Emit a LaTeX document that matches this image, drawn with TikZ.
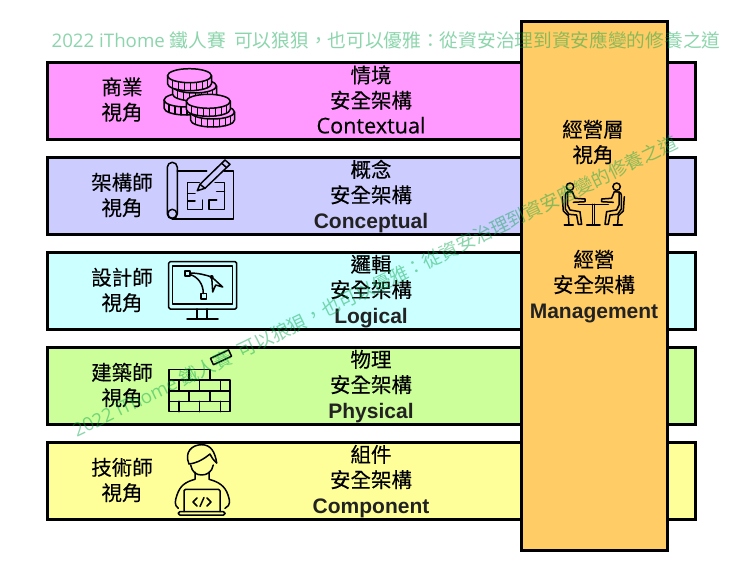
\documentclass[tikz,border=0pt]{standalone}
\usepackage{fontspec}
\setmainfont{Open Sans}[FakeBold=0.3]
\newfontfamily\markfont{Open Sans}
\newfontfamily\cjk{Noto Sans CJK TC}[FakeBold=0.25]
\newfontfamily\cjkmark{Noto Sans CJK TC}
\newfontfamily\latinb{Liberation Sans}
\definecolor{rowpink}{HTML}{FF99FF}
\definecolor{rowblue}{HTML}{CCCCFF}
\definecolor{rowcyan}{HTML}{CCFFFF}
\definecolor{rowgreen}{HTML}{CCFF99}
\definecolor{rowyellow}{HTML}{FFFF99}
\definecolor{colorange}{HTML}{FFCC66}
\definecolor{markgreen}{RGB}{0,164,73}
\tikzset{
  rowbox/.style={draw, line width=3pt, minimum width=648pt, minimum height=77pt, inner sep=0pt},
  colbox/.style={draw, line width=3pt, fill=colorange, minimum width=146pt, minimum height=528pt, inner sep=0pt},
  viewtext/.style={align=center, inner sep=0pt, font=\cjk\fontsize{20.5}{25.3}\selectfont},
  wmark/.style={text=markgreen, opacity=.45, inner sep=0pt, font=\markfont\fontsize{18.7}{18.7}\selectfont},
  icon/.style={line width=1.5pt, line join=round, line cap=round}
}
\newcommand{\coin}[2]{%
  \draw[icon, fill=rowpink] (#1-22,#2) -- (#1-22,#2+8) arc[start angle=180, end angle=0, x radius=22, y radius=7] -- (#1+22,#2);
  \foreach \t in {-17,-11,-5,1,7,13,18} {
    \pgfmathsetmacro\ty{7*sqrt(1-(\t/22)^2)}
    \draw[icon] (#1+\t,#2+\ty) -- ++(0,8);
  }
  \draw[icon, fill=rowpink] (#1,#2) ellipse[x radius=22, y radius=7];
}
\newcommand{\wtext}{{2022 iThome} {\cjkmark 鐵人賽\ \ 可以狼狽，也可以優雅：從資安治理到資安應變的修養之道}}
\newcommand{\bl}[1]{{\latinb\bfseries\fontsize{21}{25.3}\selectfont\color[HTML]{222222} #1}}
\begin{document}
\begin{tikzpicture}[x=1pt, y=-1pt]
    \useasboundingbox (0,0) rectangle (751,572);
    \fill[white] (0,0) rectangle (751,572);

    % first the five rows and the column on top of them
    \node[rowbox, fill=rowpink] (contextual) at (371,101) {};
    \node[rowbox, fill=rowblue] (conceptual) at (371,196) {};
    \node[rowbox, fill=rowcyan] (logical) at (371,291) {};
    \node[rowbox, fill=rowgreen] (physical) at (371,386) {};
    \node[rowbox, fill=rowyellow] (component) at (371,481) {};
    \node[colbox] (management) at (594,286) {};

    % left labels
    \node[viewtext] (businessview) at (122,99.5) {商業\\視角};
    \node[viewtext] (architectview) at (122,195) {架構師\\視角};
    \node[viewtext] (designerview) at (122,290) {設計師\\視角};
    \node[viewtext] (builderview) at (122,385) {建築師\\視角};
    \node[viewtext] (technicianview) at (122,480) {技術師\\視角};

    % middle labels
    \node[viewtext] (contextualtext) at (371,99.5) {情境\\安全架構\\{\rmfamily\fontsize{21.6}{25.3}\selectfont Contextual}};
    \node[viewtext] (conceptualtext) at (371,196.5) {概念\\安全架構\\[1pt]\bl{Conceptual}};
    \node[viewtext] (logicaltext) at (371,291.5) {邏輯\\安全架構\\[1pt]\bl{Logical}};
    \node[viewtext] (physicaltext) at (371,386.5) {物理\\安全架構\\[1pt]\bl{Physical}};
    \node[viewtext] (componenttext) at (371,481.5) {組件\\安全架構\\[1pt]\bl{Component}};

    % column labels
    \node[viewtext] (managerview) at (593,142) {經營層\\視角};
    \node[viewtext] (managementtext) at (594,286.5) {經營\\安全架構\\[1pt]\bl{Management}};

    % coins
    \coin{186}{100}
    \coin{194.5}{86}
    \coin{189.5}{75.7}
    \coin{212.5}{112}
    \coin{208.3}{101.3}

    % blueprint with pencil
    \draw[icon, rounded corners=5pt] (167.3,162.3) rectangle (177.3,218.8);
    \draw[icon] (172.3,213.8) circle[radius=4.5];
    \draw[icon] (177.3,171) -- (206.7,171);
    \draw[icon] (224,171) -- (233.5,171) -- (233.5,218.8) -- (172.3,218.8);
    \draw[icon] (199.3,182.7) -- (187.7,182.7) -- (187.7,209.3) -- (202.3,209.3) -- (202.3,200);
    \draw[icon] (187.7,193.3) -- (195,193.3);
    \draw[icon] (187.7,201) -- (195,201);
    \draw[icon] (215,182.7) -- (224.3,182.7) -- (224.3,209.3) -- (209,209.3) -- (209,200) -- (216.7,200);
    \draw[icon] (224.3,191.7) -- (216.7,191.7);
    \draw[icon] (197.3,190.7) -- (200,184.3) -- (225,160) -- (230,164.3) -- (205,188.3) -- cycle;
    \draw[icon] (200,184.3) -- (205,188.3);
    \draw[icon] (221.7,163.3) -- (226.7,167.7);

    % monitor
    \draw[icon, rounded corners=1.5pt] (168.7,261.7) rectangle (236.7,309);
    \draw[icon] (172.7,266) rectangle (232.7,304);
    \draw[icon] (197,309) -- (197,319);
    \draw[icon] (207,309) -- (207,319);
    \draw[icon] (187,319) -- (218,319);
    \draw[icon] (185,271) rectangle ++(5,5);
    \draw[icon] (201,293.5) rectangle ++(5.5,5.5);
    \draw[icon] (190,273) .. controls (198,273) and (206,275) .. (211.7,277);
    \draw[icon] (190,274.5) .. controls (198,277) and (203.3,284) .. (203.3,293.5);
    \fill (211.7,277) circle[radius=2];
    \draw[icon] (211.7,277) -- (222.7,287) -- (215.7,285) -- (212.7,292) -- cycle;

    % brick wall
    \draw[icon] (169,369.3) rectangle (210,380);
    \draw[icon] (169,380) rectangle (230,411.7);
    \draw[icon] (169,391) -- (230,391);
    \draw[icon] (169,401.3) -- (230,401.3);
    \draw[icon] (189,369.3) -- (189,380);
    \draw[icon] (179,380) -- (179,391);
    \draw[icon] (199.7,380) -- (199.7,391);
    \draw[icon] (220.3,380) -- (220.3,391);
    \draw[icon] (189,391) -- (189,401.3);
    \draw[icon] (210,391) -- (210,401.3);
    \draw[icon] (179,401.3) -- (179,411.7);
    \draw[icon] (199.7,401.3) -- (199.7,411.7);
    \draw[icon] (220.3,401.3) -- (220.3,411.7);
    \draw[icon, rotate around={25:(221,357.3)}] (211,353.8) rectangle (231,360.8);

    % person with laptop
    \draw[icon] (189,464) .. controls (184,452) and (192,444.7) .. (201.7,444.7) .. controls (211,444.7) and (215,452) .. (216.7,463);
    \draw[icon] (189,464) .. controls (198,463) and (205,458) .. (210,454) .. controls (212,458) and (214,461) .. (216.7,463);
    \draw[icon] (190.7,465) .. controls (192,472) and (196,475) .. (201.7,475) .. controls (207,475) and (212,472) .. (213.3,465);
    \draw[icon] (195,472) -- (195,479.3) .. controls (185,482) and (180,486) .. (177,495) .. controls (175,501) and (174,505) .. (178.3,508.3);
    \draw[icon] (209,472) -- (209,479.3) .. controls (219,482) and (225,486) .. (228,495) .. controls (230,501) and (231,505) .. (225,508.3);
    \draw[icon, rounded corners=1.5pt] (184,511.7) -- (184,489.3) -- (220,489.3) -- (220,511.7);
    \draw[icon, rounded corners=1.5pt] (178.3,511.7) -- (225,511.7) -- (225,515) -- (178.3,515) -- cycle;
    \draw[icon] (197,498) -- (193,502) -- (197,506);
    \draw[icon] (207,498) -- (211,502) -- (207,506);
    \draw[icon] (204,497.5) -- (200,506.5);

    % meeting table with two sitters
    \draw[icon] (578.3,204.3) -- (608.3,204.3);
    \draw[icon] (592.5,204.3) -- (592.5,224.3);
    \draw[icon] (594.5,204.3) -- (594.5,224.3);
    \draw[icon] (586.7,225) -- (600,225);
    \foreach \side in {1,-1} {
      \begin{scope}[xshift=593.3pt, xscale=\side]
        \draw[icon] (-23.3,186.7) circle[radius=3.7];
        \draw[icon] (-25.7,191.7) -- (-25.7,205) -- (-23.3,210) -- (-13.3,211.7) -- (-11.7,224.3) -- (-15,224.3) -- (-16.7,215) -- (-24.3,214.3) -- (-28,209) -- (-28,195) .. controls (-28,191.7) and (-24,191.7) .. (-21,191.7) -- (-18.3,198.3) -- (-8.3,199) -- (-8.3,201.7) -- (-20,202.3);
        \draw[icon] (-31,196.7) -- (-30,211) -- (-25,215.7) -- (-24.3,225);
        \draw[icon] (-29,225) -- (-20,225);
      \end{scope}
    }

    % watermark goes on top of everything
    \node[wmark] (wmarktop) at (386,40) {\wtext};
    \node[wmark, rotate=25.7] (wmarkslant) at (375,286) {\wtext};
\end{tikzpicture}
\end{document}
